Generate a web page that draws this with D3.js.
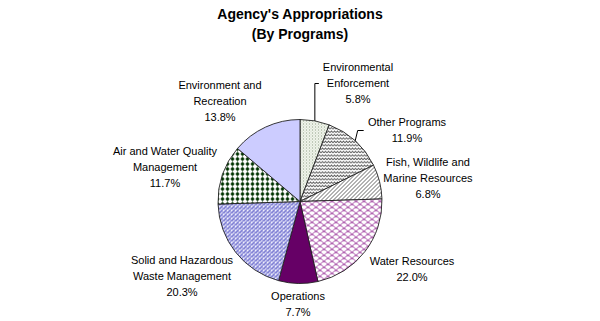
<!DOCTYPE html>
<html>
<head>
<meta charset="utf-8">
<script src="https://cdn.jsdelivr.net/npm/d3@7"></script>
<style>
  html, body { margin: 0; padding: 0; background: #fff; }
  svg { display: block; }
  text { font-family: Arial, "Liberation Sans", sans-serif; fill: #000; }
</style>
</head>
<body>
<svg id="chart" width="600" height="321"></svg>
<script>
// ---- data ----
const titleLines = ["Agency's Appropriations", "(By Programs)"];
const categories = [
  "Environmental Enforcement",
  "Other Programs",
  "Fish, Wildlife and Marine Resources",
  "Water Resources",
  "Operations",
  "Solid and Hazardous Waste Management",
  "Air and Water Quality Management",
  "Environment and Recreation"
];
const values = [5.8, 11.9, 6.8, 22.0, 7.7, 20.3, 11.7, 13.8];
const labelLines = [
  ["Environmental", "Enforcement", "5.8%"],
  ["Other Programs", "11.9%"],
  ["Fish, Wildlife and", "Marine Resources", "6.8%"],
  ["Water Resources", "22.0%"],
  ["Operations", "7.7%"],
  ["Solid and Hazardous", "Waste Management", "20.3%"],
  ["Air and Water Quality", "Management", "11.7%"],
  ["Environment and", "Recreation", "13.8%"]
];

// ---- layout ----
const cx = 300, cy = 201.5, R = 82;
const lineH = 16;
const labelPos = [
  [358, 67.5], [407, 122], [428, 162], [412, 261],
  [298, 296], [182, 260], [165, 151], [220, 85]
];
const leaders = {0: {elbowY: 83.5, tickDx: 4}, 1: {elbowY: 130.5, tickDx: 6, slant: 2.5}};

const svg = d3.select("#chart");
const defs = svg.append("defs");

function pattern(id, w, h, bg, draw) {
  const p = defs.append("pattern").attr("id", id)
    .attr("patternUnits", "userSpaceOnUse").attr("width", w).attr("height", h);
  p.append("rect").attr("width", w).attr("height", h).attr("fill", bg);
  draw(p);
}
pattern("p0", 3, 3, "#f3f7ee", p => {
  p.append("rect").attr("x", 0).attr("y", 0).attr("width", 1).attr("height", 1).attr("fill", "#8c9c84");
  p.append("rect").attr("x", 1.5).attr("y", 1.5).attr("width", 1).attr("height", 1).attr("fill", "#b4c2ac");
});
pattern("p1", 6, 3.4, "#fff", p => {
  p.append("path").attr("d", "M0,2.4 L1.5,0.9 L3,2.4 L4.5,0.9 L6,2.4")
    .attr("fill", "none").attr("stroke", "#555").attr("stroke-width", 0.9);
});
pattern("p2", 4, 4, "#fff", p => {
  p.append("path").attr("d", "M-1,1 L1,-1 M0,4 L4,0 M3,5 L5,3")
    .attr("stroke", "#555").attr("stroke-width", 0.9);
});
pattern("p3", 8, 6, "#fff", p => {
  p.append("path").attr("d", "M0,6 Q4,0 8,6 M-4,3 Q0,-3 4,3 M4,3 Q8,-3 12,3 M-4,9 Q0,3 4,9 M4,9 Q8,3 12,9")
    .attr("fill", "none").attr("stroke", "#993399").attr("stroke-width", 0.9);
});
pattern("p5", 4, 4, "#eeeefc", p => {
  p.append("path").attr("d", "M0,4 L0,2 L2,2 L2,0 M2,4 L4,4 L4,2")
    .attr("fill", "none").attr("stroke", "#5252c4").attr("stroke-width", 1.1);
});
pattern("p6", 5, 5, "#fff", p => {
  p.append("path").attr("d", "M2.5,0.3 L4.7,2.5 L2.5,4.7 L0.3,2.5 Z").attr("fill", "#003300");
});

const fills = ["url(#p0)", "url(#p1)", "url(#p2)", "url(#p3)", "#660066", "url(#p5)", "url(#p6)", "#ccccff"];

svg.append("text").attr("x", 300).attr("y", 19).attr("text-anchor", "middle")
  .attr("font-size", 14).attr("font-weight", "bold").text(titleLines[0]);
svg.append("text").attr("x", 300).attr("y", 39).attr("text-anchor", "middle")
  .attr("font-size", 14).attr("font-weight", "bold").text(titleLines[1]);

const pie = d3.pie().sort(null).value(d => d)(values);
const arc = d3.arc().innerRadius(0).outerRadius(R);
const g = svg.append("g").attr("transform", `translate(${cx},${cy})`);
g.selectAll("path.slice").data(pie).join("path")
  .attr("class", "slice")
  .attr("d", arc)
  .attr("fill", (d, i) => fills[i])
  .attr("stroke", "#222").attr("stroke-width", 0.9);

pie.forEach((d, i) => {
  const L = leaders[i];
  if (!L) return;
  const a = (d.startAngle + d.endAngle) / 2;
  const ex = cx + R * Math.sin(a), ey = cy - R * Math.cos(a);
  const topX = ex + (L.slant || 0);
  svg.append("path")
    .attr("d", `M${ex},${ey} L${topX},${L.elbowY} L${topX + L.tickDx},${L.elbowY}`)
    .attr("fill", "none").attr("stroke", "#000").attr("stroke-width", 1);
});

labelLines.forEach((lines, i) => {
  const [lx, ly] = labelPos[i];
  const t = svg.append("text").attr("text-anchor", "middle").attr("font-size", 11);
  lines.forEach((s, k) => {
    t.append("tspan").attr("x", lx).attr("y", ly + k * lineH).attr("dy", "0.36em").text(s);
  });
});
</script>
</body>
</html>
